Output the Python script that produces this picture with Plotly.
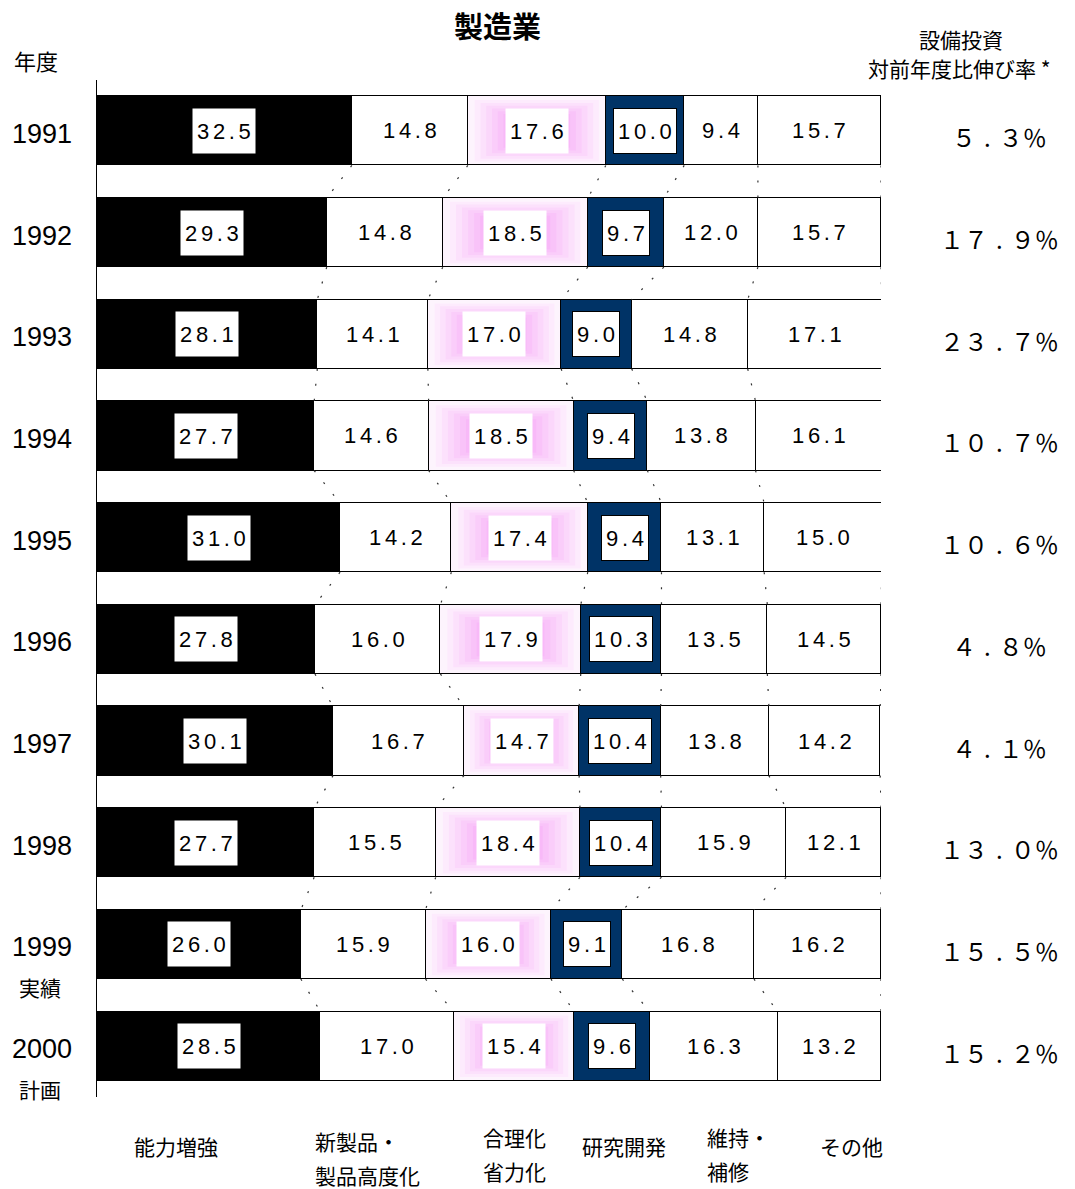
import plotly.graph_objects as go

# --- data -------------------------------------------------------------
years = ["1991", "1992", "1993", "1994", "1995", "1996", "1997", "1998", "1999", "2000"]
year_notes = {"1999": "実績", "2000": "計画"}

categories = ["能力増強", "新製品・<br>製品高度化", "合理化<br>省力化", "研究開発", "維持・<br>補修", "その他"]

capacity = [32.5, 29.3, 28.1, 27.7, 31.0, 27.8, 30.1, 27.7, 26.0, 28.5]
new_products = [14.8, 14.8, 14.1, 14.6, 14.2, 16.0, 16.7, 15.5, 15.9, 17.0]
rationalization = [17.6, 18.5, 17.0, 18.5, 17.4, 17.9, 14.7, 18.4, 16.0, 15.4]
research = [10.0, 9.7, 9.0, 9.4, 9.4, 10.3, 10.4, 10.4, 9.1, 9.6]
maintenance = [9.4, 12.0, 14.8, 13.8, 13.1, 13.5, 13.8, 15.9, 16.8, 16.3]
other = [15.7, 15.7, 17.1, 16.1, 15.0, 14.5, 14.2, 12.1, 16.2, 13.2]

growth_rate = [5.3, 17.9, 23.7, 10.7, 10.6, 4.8, 4.1, 13.0, 15.5, 15.2]

series = [capacity, new_products, rationalization, research, maintenance, other]

# --- layout geometry (pixels) ----------------------------------------
W, H = 1075, 1189
L, R, T, B = 97, 881, 80, 1097
BAR_HALF = 0.34
NAVY = "#003366"
JP = "Noto Sans CJK JP"


def px_x(p):
    return (p - L) / (R - L)


def px_y(p):
    return (B - p) / (B - T)


def spaced(s):
    # slight tracking between characters
    return "\u2006".join(s)


def fullwidth(s):
    table = {c: chr(ord(c) + 0xFEE0) for c in "0123456789"}
    table.update({".": "\u2004.\u2004", "%": "％"})
    return "".join(table.get(c, c) for c in s)


def label(x, y, text, size, family=JP, xanchor="center", **kw):
    d = dict(x=x, y=y, text=text, showarrow=False, xanchor=xanchor, yanchor="middle",
             font=dict(family=family, size=size, color="#000000"))
    d.update(kw)
    return d


fills = ["#000000", "#ffffff", "#fdf4fd", NAVY, "#ffffff", "#ffffff"]
yidx = list(range(len(years)))

fig = go.Figure()
for vals, col, name in zip(series, fills, categories):
    fig.add_trace(go.Bar(
        y=yidx, x=vals, orientation="h", name=name,
        marker=dict(color=col, line=dict(color="#000000", width=1.5)),
        width=2 * BAR_HALF, hoverinfo="skip", showlegend=False,
    ))

# cumulative boundaries for each year
bounds = []
for i in yidx:
    acc, row = 0.0, []
    for s in series:
        acc += s[i]
        row.append(acc)
    bounds.append(row)

# dotted series lines between consecutive bars
cx, cy = [], []
for i in range(len(years) - 1):
    for k in range(len(series)):
        cx += [bounds[i][k], bounds[i + 1][k], None]
        cy += [i + BAR_HALF, i + 1 - BAR_HALF, None]
fig.add_trace(go.Scatter(
    x=cx, y=cy, mode="lines", connectgaps=False, hoverinfo="skip", showlegend=False,
    line=dict(color="#333333", width=1.2, dash="2px,13px"),
))

# rectangular pink gradient inside the rationalization segment
shapes = []
N = 12
c_out = (254, 245, 254)
c_in = (242, 125, 242)
for i in yidx:
    x0 = bounds[i][1]
    x1 = bounds[i][2]
    cxm = (x0 + x1) / 2
    hw = (x1 - x0) / 2
    for k in range(1, N):
        t = k / N
        col = tuple(round(a + (b - a) * t) for a, b in zip(c_out, c_in))
        shapes.append(dict(
            type="rect", xref="x", yref="y", layer="above", line=dict(width=0),
            x0=cxm - hw * (1 - t) + 0.15, x1=cxm + hw * (1 - t) - 0.15,
            y0=i - (BAR_HALF - 0.01) * (1 - t), y1=i + (BAR_HALF - 0.01) * (1 - t),
            fillcolor="rgb(%d,%d,%d)" % col,
        ))

annotations = []
VAL_FAMILY = "Liberation Sans, Arial, sans-serif"
for i in yidx:
    prev = 0.0
    for k, s in enumerate(series):
        v = s[i]
        xm = prev + v / 2
        prev += v
        a = label(xm, i, spaced(f"{v:.1f}"), 22, family=VAL_FAMILY, xref="x", yref="y")
        if k in (0, 2, 3):
            a.update(bgcolor="#ffffff", borderpad=4, height=36)
            if k == 3:
                a.update(bordercolor="#000000", borderwidth=1)
        annotations.append(a)

    # year label on the left
    annotations.append(label(px_x(42), i, years[i], 27, family=VAL_FAMILY,
                             xref="paper", yref="y", yshift=-3))
    if years[i] in year_notes:
        annotations.append(label(px_x(40), i, year_notes[years[i]], 21,
                                 xref="paper", yref="y", yshift=-43))

    # growth rate on the right
    annotations.append(label(px_x(1000), i, fullwidth(f"{growth_rate[i]:.1f}%"), 24,
                             xref="paper", yref="y", yshift=-6))

# category names under the chart (left edge, first-line centre)
cat_pos = [(132, 1146), (313, 1141), (481, 1137), (580, 1146), (705, 1137), (818, 1146)]
for name, (px, py) in zip(categories, cat_pos):
    for j, line in enumerate(name.split("<br>")):
        annotations.append(label(px_x(px), px_y(py + 34 * j), line, 21,
                                 xanchor="left", xref="paper", yref="paper"))

# headings
annotations += [
    label(px_x(497), px_y(25), "<b>製造業</b>", 29, xref="paper", yref="paper"),
    label(px_x(36), px_y(60), "年度", 22, xref="paper", yref="paper"),
    label(px_x(961), px_y(39), "設備投資", 21, xref="paper", yref="paper"),
    label(px_x(959), px_y(68), "対前年度比伸び率 *", 21, xref="paper", yref="paper"),
]

fig.update_layout(
    width=W, height=H, barmode="stack", bargap=0,
    margin=dict(l=L, r=W - R, t=T, b=H - B, pad=0),
    paper_bgcolor="#ffffff", plot_bgcolor="#ffffff",
    xaxis=dict(range=[0, 100], showgrid=False, zeroline=False, showticklabels=False,
               ticks="", showline=False, fixedrange=True),
    yaxis=dict(range=[len(years) - 0.5, -0.5], showgrid=False, zeroline=False,
               showticklabels=False, ticks="", showline=True, linecolor="#000000",
               linewidth=1, fixedrange=True),
    shapes=shapes, annotations=annotations,
)

fig.write_html("out.html")
